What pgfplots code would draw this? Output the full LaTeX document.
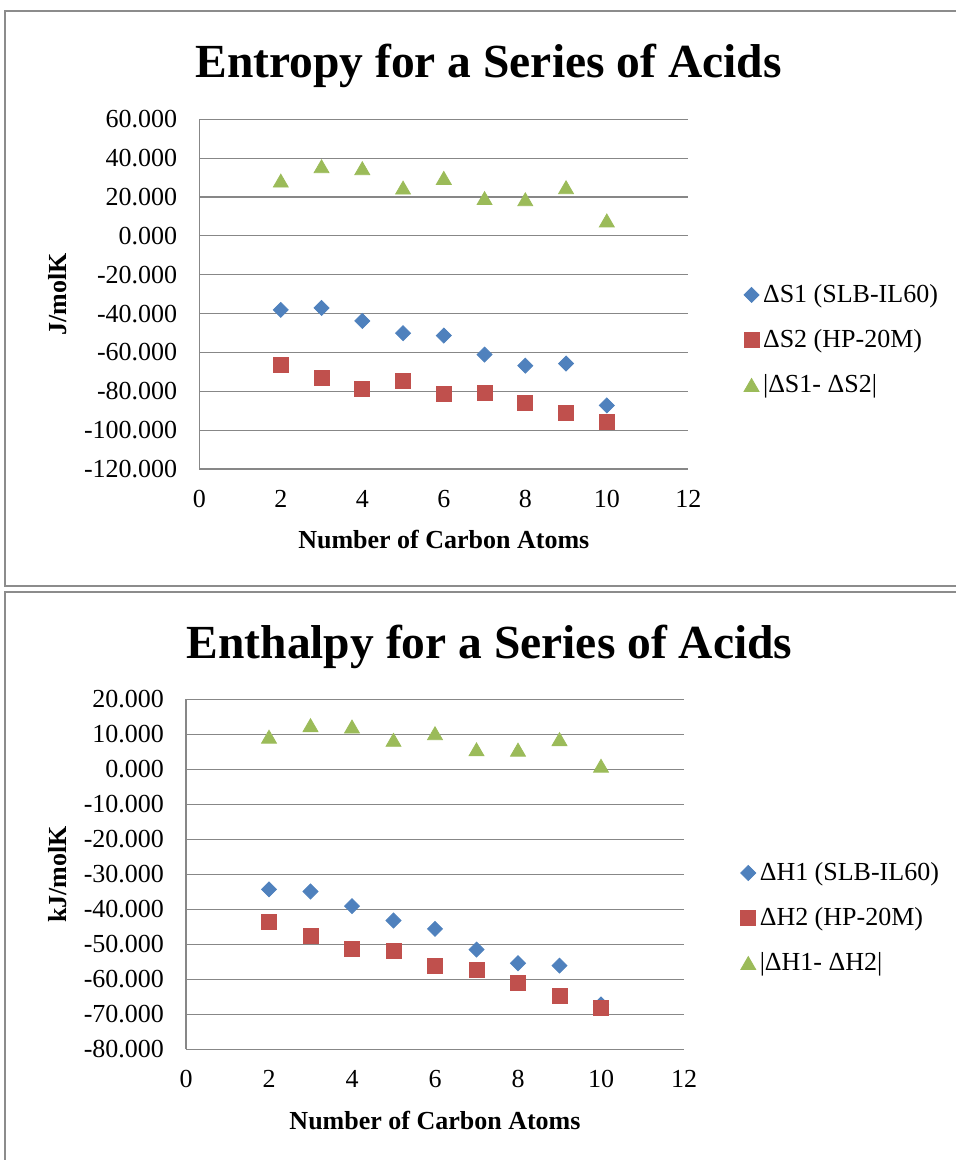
\documentclass[border=0pt]{standalone}
\usepackage{fontspec}
\setmainfont{Liberation Serif}
\usepackage{pgfplots}
\pgfplotsset{compat=1.18}
\definecolor{sblue}{HTML}{4F81BD}
\definecolor{sred}{HTML}{C0504D}
\definecolor{sgreen}{HTML}{9BBB59}
\definecolor{gridgray}{HTML}{878787}
\definecolor{framegray}{HTML}{8C8C8C}
\newcommand\tk{\fontsize{13}{15.6}\selectfont}
\pgfplotsset{
 exstyle/.style={
   scale only axis,
   xmin=0,xmax=12, xtick={0,2,...,12}, xticklabels={0,2,4,6,8,10,12},
   axis lines*=left, axis line style={gridgray, line width=0.6pt, -},
   ymajorgrids, major grid style={gridgray, line width=0.6pt},
   major tick length=0pt,
   tick label style={font=\tk},
   yticklabel style={xshift=-7.5pt},
   xticklabel style={yshift=-7pt},
   label style={font=\tk\bfseries},
   clip=false,
   legend style={draw=none, fill=none, font=\tk, inner sep=0pt, outer sep=0pt, row sep=8pt, cells={anchor=west}},
   legend image code/.code={\draw[mark repeat=2,mark phase=2,##1] plot coordinates {(0pt,0pt)(4pt,0pt)(8pt,0pt)};},
 },
 s1/.style={only marks, color=sblue, mark=square*, mark size=2.65pt, mark options={rotate=45}},
 s2/.style={only marks, color=sred, mark=square*, mark size=3.75pt},
 s3/.style={only marks, color=sgreen, mark=triangle*, mark size=4.3pt, mark options={yshift=-1.05pt}},
}
\begin{document}
\begin{tikzpicture}
\useasboundingbox (0,0) rectangle (478pt,-580pt);
\draw[framegray, line width=0.75pt] (2.5pt,-5.5pt) rectangle (482pt,-293pt);
\draw[framegray, line width=0.75pt] (2.5pt,-296pt) rectangle (482pt,-590pt);
\node[anchor=base, font=\fontsize{23.75}{28}\selectfont\bfseries] at (244.25pt,-39pt) {Entropy for a Series of Acids};
\node[anchor=base, font=\fontsize{23.75}{28}\selectfont\bfseries] at (244.75pt,-329pt) {Enthalpy for a Series of Acids};

\begin{axis}[exstyle, at={(99.65pt,-59.65pt)}, anchor=north west,
  width=244.5pt, height=174.85pt,
  ymin=-120, ymax=60, ytick={-120,-100,...,60},
  yticklabels={-120.000,-100.000,-80.000,-60.000,-40.000,-20.000,0.000,20.000,40.000,60.000},
  xlabel={Number of Carbon Atoms}, ylabel={J/molK},
  xlabel style={at={(axis description cs:0.5,-0.203)}, anchor=center},
  ylabel style={at={(axis description cs:-0.289,0.5)}, anchor=center, rotate=0},
  legend style={at={(axis description cs:1.114,0.369)}, anchor=west},
]
\addplot[s1] coordinates {(2,-38.1)(3,-37.1)(4,-43.8)(5,-50.1)(6,-51.3)(7,-61.1)(8,-66.8)(9,-65.7)(10,-87.3)};
\addlegendentry{ΔS1 (SLB-IL60)}
\addplot[s2] coordinates {(2,-66.4)(3,-72.9)(4,-78.8)(5,-74.8)(6,-81.3)(7,-80.8)(8,-86.0)(9,-91.0)(10,-95.6)};
\addlegendentry{ΔS2 (HP-20M)}
\addplot[s3] coordinates {(2,28.4)(3,35.8)(4,34.8)(5,24.8)(6,29.8)(7,19.4)(8,18.8)(9,25.0)(10,7.9)};
\addlegendentry{|ΔS1- ΔS2|}
\end{axis}

\begin{axis}[exstyle, at={(93pt,-349.65pt)}, anchor=north west,
  width=249pt, height=175pt,
  ymin=-80, ymax=20, ytick={-80,-70,...,20},
  yticklabels={-80.000,-70.000,-60.000,-50.000,-40.000,-30.000,-20.000,-10.000,0.000,10.000,20.000},
  xlabel={Number of Carbon Atoms}, ylabel={kJ/molK},
  xlabel style={at={(axis description cs:0.5,-0.203)}, anchor=center},
  ylabel style={at={(axis description cs:-0.257,0.5)}, anchor=center, rotate=0},
  legend style={at={(axis description cs:1.114,0.375)}, anchor=west},
]
\addplot[s1] coordinates {(2,-34.3)(3,-34.9)(4,-39.1)(5,-43.2)(6,-45.6)(7,-51.5)(8,-55.4)(9,-56.1)(10,-67.2)};
\addlegendentry{ΔH1 (SLB-IL60)}
\addplot[s2] coordinates {(2,-43.6)(3,-47.5)(4,-51.3)(5,-51.9)(6,-56.1)(7,-57.3)(8,-61.1)(9,-64.7)(10,-68.1)};
\addlegendentry{ΔH2 (HP-20M)}
\addplot[s3] coordinates {(2,9.3)(3,12.6)(4,12.2)(5,8.4)(6,10.3)(7,5.7)(8,5.6)(9,8.6)(10,1.0)};
\addlegendentry{|ΔH1- ΔH2|}
\end{axis}
\end{tikzpicture}
\end{document}
